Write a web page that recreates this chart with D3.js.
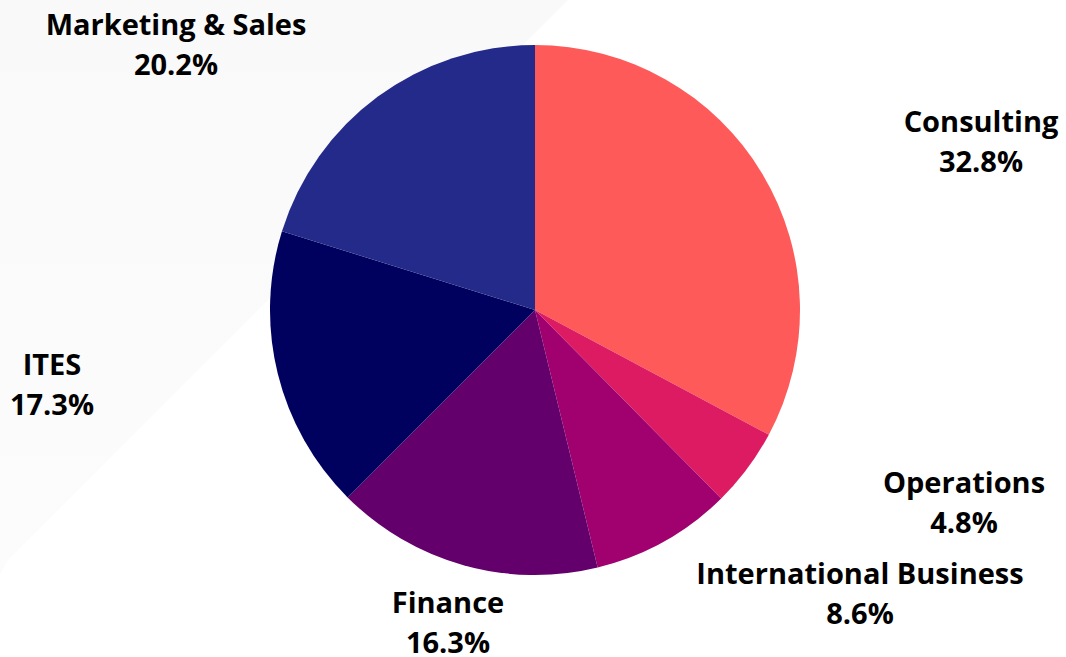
<!DOCTYPE html>
<html>
<head>
<meta charset="utf-8">
<script src="https://cdn.jsdelivr.net/npm/d3@7"></script>
<style>
  html, body { margin: 0; padding: 0; background: #fff; }
  svg { display: block; font-family: "Open Sans", sans-serif; }
</style>
</head>
<body>
<script>
const width = 1066;
const height = 657;

// slice data, clockwise from 12 o'clock
const categories = ['Consulting', 'Operations', 'International Business', 'Finance', 'ITES', 'Marketing & Sales'];
const shares = [32.8, 4.8, 8.6, 16.3, 17.3, 20.2];
const colours = ['#ff5a5a', '#dc1b63', '#a1006f', '#63006b', '#00005e', '#232a89'];

const cx = 535;
const cy = 310;
const radius = 265;

// label anchors (text centre, first baseline), laid out by hand like the original
const labelPos = [[981, 132], [964, 493], [860, 584], [448, 613], [52, 375], [176, 35]];

const svg = d3.select('body').append('svg')
  .attr('width', width)
  .attr('height', height);

// faint diagonal band behind the left side
const defs = svg.append('defs');
const grad = defs.append('linearGradient')
  .attr('id', 'band')
  .attr('x1', 0).attr('y1', 0).attr('x2', 0).attr('y2', 1);
grad.append('stop').attr('offset', '0%').attr('stop-color', '#f9f9f9');
grad.append('stop').attr('offset', '100%').attr('stop-color', '#fcfcfc');

svg.append('path')
  .attr('d', 'M0,0 L568,0 L8,560 L0,575 Z')
  .attr('fill', 'url(#band)');

const pie = d3.pie().sort(null).value((d) => d.value);
const arc = d3.arc().innerRadius(0).outerRadius(radius);

const rows = categories.map((c, i) => ({ name: c, value: shares[i], colour: colours[i] }));

const g = svg.append('g').attr('transform', `translate(${cx},${cy})`);

g.selectAll('path.slice')
  .data(pie(rows))
  .join('path')
  .attr('class', 'slice')
  .attr('d', arc)
  .attr('fill', (d) => d.data.colour);

const labels = svg.append('g')
  .attr('font-size', 29)
  .attr('font-weight', 700)
  .attr('fill', '#000')
  .attr('text-anchor', 'middle');

rows.forEach((d, i) => {
  const [x, y] = labelPos[i];
  const t = labels.append('text').attr('x', x).attr('y', y);
  t.append('tspan').attr('x', x).text(d.name);
  t.append('tspan').attr('x', x).attr('dy', 40).text(d.value.toFixed(1) + '%');
});
</script>
</body>
</html>
